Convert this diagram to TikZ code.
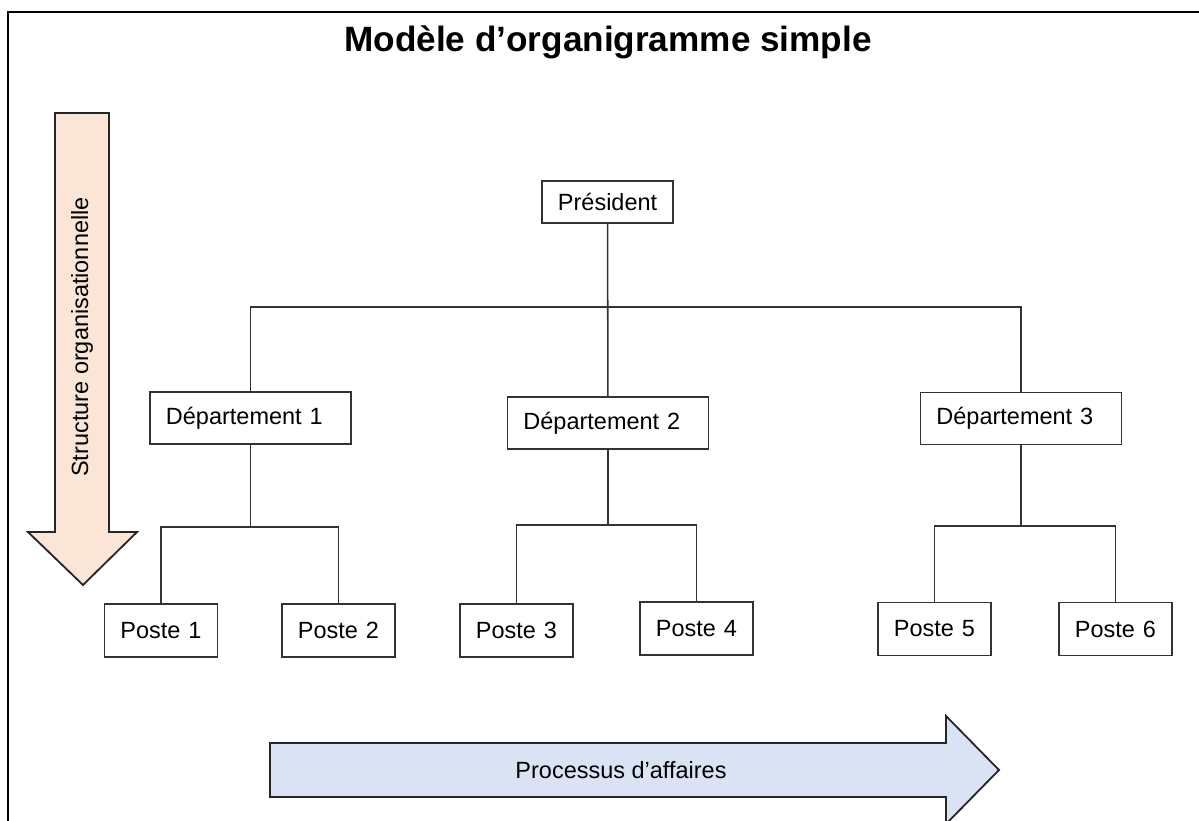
\documentclass[tikz,border=0pt]{standalone}
\usepackage{fontspec}
\setmainfont{Liberation Sans}
\definecolor{peach}{HTML}{FBE5D6}
\definecolor{paleblue}{HTML}{DAE3F3}
\tikzset{
  box/.style={draw=black!80, line width=1.1pt, fill=white, align=left, inner xsep=0.4cm,
    font=\fontsize{16.7}{20}\selectfont},
  dept/.style={box, text width=4.225cm, minimum height=1.3cm},
  poste/.style={box, text width=2.025cm, minimum height=1.325cm},
  link/.style={draw=black!80, line width=1.1pt},
  bigarrow/.style={draw=black!85, line width=1.3pt, line join=miter}
}
\begin{document}
\begin{tikzpicture}[x=0.025cm, y=-0.025cm]
        \useasboundingbox (0,0) rectangle (1199,821);
        \draw[line width=1.4pt] (8,12) rectangle (1215,835);
        \node[anchor=base, font=\fontsize{25}{30}\selectfont\bfseries] (title) at (608,52) {Modèle d’organigramme simple};
        \draw[bigarrow, fill=peach] (55,113) -- (109,113) -- (109,532) -- (137,532) -- (83,585)
            -- (28,532) -- (55,532) -- cycle;
        \node[rotate=90, font=\fontsize{16.7}{20}\selectfont] (struct) at (82,337) {Structure organisationnelle};
        \draw[bigarrow, fill=paleblue] (270,743) -- (946,743) -- (946,716) -- (999,770) -- (946,824)
            -- (946,797) -- (270,797) -- cycle;
        \node[font=\fontsize{16.7}{20}\selectfont] (proc) at (621,770) {Processus d'affaires};
        \node[box, text width=2.475cm, minimum height=1.05cm] (pres) at (607.5,202) {Président};
        \node[dept] (dep1) at (250.5,418) {Département 1};
        \node[dept] (dep2) at (608,423) {Département 2};
        \node[dept] (dep3) at (1021,418.5) {Département 3};
        \node[poste] (p1) at (161,630.5) {Poste 1};
        \node[poste] (p2) at (338.5,630.5) {Poste 2};
        \node[poste] (p3) at (516.5,630.5) {Poste 3};
        \node[poste] (p4) at (696.5,628.5) {Poste 4};
        \node[poste] (p5) at (934.5,629) {Poste 5};
        \node[poste] (p6) at (1115.5,629) {Poste 6};
        \coordinate (bus) at (607.5,307);
        \draw[link] (pres) -- (dep2);
        \draw[link] (dep1.north) |- (bus) -| (dep3.north);
        \foreach \d/\a/\b/\y in {dep1/p1/p2/527, dep2/p3/p4/525, dep3/p5/p6/526} {
            \draw[link] (\d.south) -- (\d.south |- 0,\y) coordinate (\d-bus);
            \draw[link] (\a.north) |- (\d-bus) -| (\b.north);
        }
    \end{tikzpicture}
\end{document}
